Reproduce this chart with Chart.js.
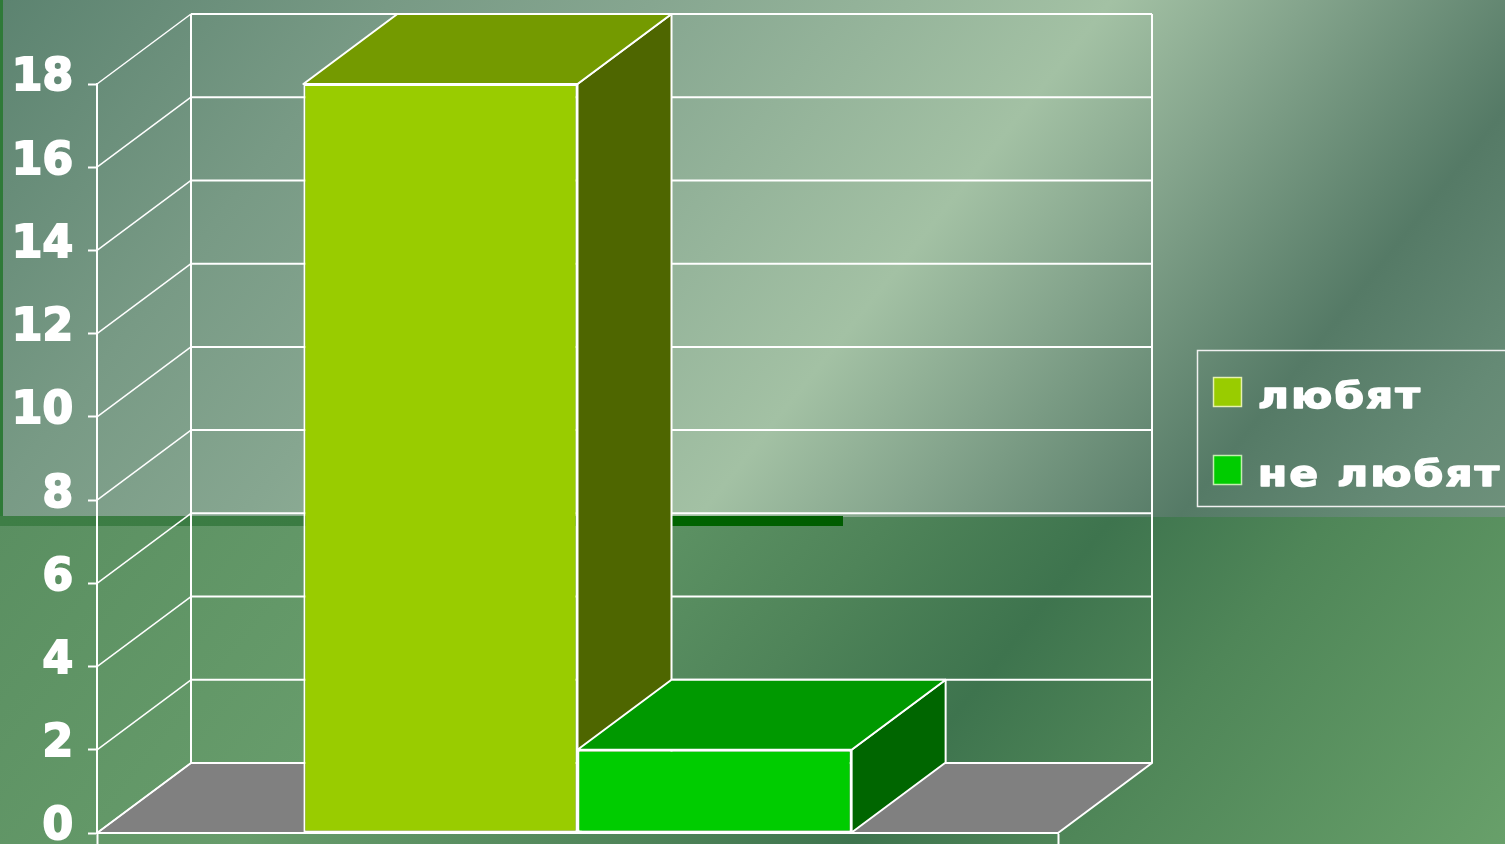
<!DOCTYPE html>
<html>
<head>
<meta charset="utf-8">
<script src="https://cdn.jsdelivr.net/npm/chart.js@4"></script>
<style>
  html, body { margin: 0; padding: 0; background: #5c8370; overflow: hidden; }
  canvas { display: block; }
</style>
</head>
<body>
<canvas id="chart" width="1505" height="844"></canvas>
<script>
// data
const categories = [''];
const seriesNames = ['любят', 'не любят'];
const lovesValues = [18];
const dislikesValues = [2];
const yTickValues = [0, 2, 4, 6, 8, 10, 12, 14, 16, 18];

// colours of the three visible faces of each box
const frontColors = ['#99cc00', '#00cc00'];
const topColors = ['#749a00', '#009900'];
const sideColors = ['#4e6600', '#006600'];

const DEPTH_X = 94;
const DEPTH_Y = 70;

// slide background: two diagonal gradients split at y=517, plus the dark strips
const backgroundPlugin = {
  id: 'slideBackground',
  beforeDraw(chart) {
    const ctx = chart.ctx;
    const w = chart.width, h = chart.height;
    const split = 517;

    const upper = ctx.createLinearGradient(0, 0, 1330, 1064);
    upper.addColorStop(0, '#5c8370');
    upper.addColorStop(0.18, '#789a85');
    upper.addColorStop(0.3, '#86a690');
    upper.addColorStop(0.51, '#a3c1a4');
    upper.addColorStop(0.6, '#84a48c');
    upper.addColorStop(0.73, '#557a66');
    upper.addColorStop(0.82, '#658a75');
    upper.addColorStop(0.9, '#71937d');
    upper.addColorStop(1, '#7d9c86');
    ctx.fillStyle = upper;
    ctx.fillRect(0, 0, w, split);

    const lower = ctx.createLinearGradient(0, 0, 1330, 1064);
    lower.addColorStop(0, '#55895c');
    lower.addColorStop(0.19, '#5a8f61');
    lower.addColorStop(0.42, '#679c6b');
    lower.addColorStop(0.6, '#4f8459');
    lower.addColorStop(0.7, '#3e744e');
    lower.addColorStop(0.8, '#4f8658');
    lower.addColorStop(1, '#68a06a');
    ctx.fillStyle = lower;
    ctx.fillRect(0, split, w, h - split);

    // thin vertical strip on the left edge
    ctx.fillStyle = '#2f7a38';
    ctx.fillRect(0, 0, 3, split + 4);

    // horizontal strip under the upper panel
    const strip = ctx.createLinearGradient(0, 0, 843, 0);
    strip.addColorStop(0, '#3e7e46');
    strip.addColorStop(0.36, '#3a7b42');
    strip.addColorStop(0.79, '#006400');
    strip.addColorStop(1, '#005c00');
    ctx.fillStyle = strip;
    ctx.fillRect(0, 516, 843, 10);
  }
};

// floor, back wall, side wall and the depth faces of the bars
const depthPlugin = {
  id: 'depth3d',
  beforeDatasetsDraw(chart) {
    const ctx = chart.ctx;
    const area = chart.chartArea;
    const yScale = chart.scales.y;
    const y0 = yScale.getPixelForValue(0);

    ctx.save();
    ctx.lineJoin = 'round';

    // floor
    ctx.beginPath();
    ctx.moveTo(area.left, y0);
    ctx.lineTo(area.right, y0);
    ctx.lineTo(area.right + DEPTH_X, y0 - DEPTH_Y);
    ctx.lineTo(area.left + DEPTH_X, y0 - DEPTH_Y);
    ctx.closePath();
    ctx.fillStyle = '#808080';
    ctx.fill();
    ctx.strokeStyle = '#ffffff';
    ctx.lineWidth = 2;
    ctx.stroke();

    // back wall grid lines and side wall diagonals
    yTickValues.forEach(v => {
      const y = yScale.getPixelForValue(v);
      ctx.lineWidth = 2;
      ctx.beginPath();
      ctx.moveTo(area.left + DEPTH_X, y - DEPTH_Y);
      ctx.lineTo(area.right + DEPTH_X, y - DEPTH_Y);
      ctx.stroke();
      ctx.lineWidth = 1.5;
      ctx.beginPath();
      ctx.moveTo(area.left, y);
      ctx.lineTo(area.left + DEPTH_X, y - DEPTH_Y);
      ctx.stroke();
    });
    const yTop = yScale.getPixelForValue(yScale.max);
    ctx.lineWidth = 2;
    ctx.beginPath();
    ctx.moveTo(area.left + DEPTH_X, yTop - DEPTH_Y);
    ctx.lineTo(area.left + DEPTH_X, y0 - DEPTH_Y);
    ctx.moveTo(area.right + DEPTH_X, yTop - DEPTH_Y);
    ctx.lineTo(area.right + DEPTH_X, y0 - DEPTH_Y);
    ctx.stroke();

    // side and top faces, left to right
    chart.data.datasets.forEach((ds, i) => {
      const meta = chart.getDatasetMeta(i);
      meta.data.forEach(bar => {
        const p = bar.getProps(['x', 'y', 'base', 'width'], true);
        const l = p.x - p.width / 2;
        const r = p.x + p.width / 2;
        ctx.lineWidth = 2;

        ctx.beginPath();
        ctx.moveTo(r, p.y);
        ctx.lineTo(r + DEPTH_X, p.y - DEPTH_Y);
        ctx.lineTo(r + DEPTH_X, p.base - DEPTH_Y);
        ctx.lineTo(r, p.base);
        ctx.closePath();
        ctx.fillStyle = sideColors[i];
        ctx.fill();
        ctx.stroke();

        ctx.beginPath();
        ctx.moveTo(l, p.y);
        ctx.lineTo(l + DEPTH_X, p.y - DEPTH_Y);
        ctx.lineTo(r + DEPTH_X, p.y - DEPTH_Y);
        ctx.lineTo(r, p.y);
        ctx.closePath();
        ctx.fillStyle = topColors[i];
        ctx.fill();
        ctx.stroke();
      });
    });
    ctx.restore();
  }
};

// boxed legend on the right, partly running off the slide
const legendPlugin = {
  id: 'boxLegend',
  afterDraw(chart) {
    const ctx = chart.ctx;
    ctx.save();
    ctx.strokeStyle = '#f0f0f0';
    ctx.lineWidth = 1.5;
    ctx.strokeRect(1197.5, 350.5, 340, 156);

    chart.data.datasets.forEach((ds, i) => {
      const top = 377 + i * 78;
      ctx.fillStyle = frontColors[i];
      ctx.fillRect(1213, top, 29, 30);
      ctx.strokeStyle = 'rgba(255,255,230,0.75)';
      ctx.lineWidth = 1.5;
      ctx.strokeRect(1213.5, top + 0.5, 28, 29);

      // wide heavy lettering: stretch horizontally and thicken with a stroke
      ctx.save();
      ctx.translate(1258, top + 31);
      ctx.scale(1.2, 1);
      ctx.font = 'bold 35px "DejaVu Sans", sans-serif';
      ctx.letterSpacing = '2px';
      ctx.textBaseline = 'alphabetic';
      ctx.fillStyle = '#ffffff';
      ctx.strokeStyle = '#ffffff';
      ctx.lineWidth = 1.6;
      ctx.lineJoin = 'round';
      ctx.strokeText(ds.label, 0, 0);
      ctx.fillText(ds.label, 0, 0);
      ctx.restore();
    });
    ctx.restore();
  }
};

new Chart(document.getElementById('chart'), {
  type: 'bar',
  data: {
    labels: categories,
    datasets: [
      { label: seriesNames[0], data: lovesValues, backgroundColor: frontColors[0] },
      { label: seriesNames[1], data: dislikesValues, backgroundColor: frontColors[1] }
    ]
  },
  options: {
    responsive: false,
    animation: false,
    layout: { padding: { top: 84, right: 447, bottom: 0, left: 0 } },
    datasets: {
      bar: {
        categoryPercentage: 0.5705,
        barPercentage: 1,
        borderColor: '#ffffff',
        borderWidth: 2,
        borderSkipped: false
      }
    },
    plugins: {
      legend: { display: false },
      tooltip: { enabled: false }
    },
    scales: {
      x: {
        grid: { offset: true, drawOnChartArea: false, tickLength: 11, tickColor: '#ffffff', tickWidth: 2 },
        border: { display: true, color: '#ffffff', width: 2 },
        ticks: { display: false }
      },
      y: {
        min: 0,
        max: 18,
        afterBuildTicks: s => { s.ticks = yTickValues.map(v => ({ value: v })); },
        afterFit: s => { s.width = 97; s.paddingTop = 0; s.paddingBottom = 0; },
        grid: { drawOnChartArea: false, tickLength: 9, tickColor: '#ffffff', tickWidth: 2 },
        border: { display: true, color: '#ffffff', width: 2 },
        ticks: {
          color: '#ffffff',
          padding: 15,
          labelOffset: -5,
          textStrokeColor: '#ffffff',
          textStrokeWidth: 2,
          font: { family: '"DejaVu Sans", sans-serif', weight: 'bold', size: 44 }
        }
      }
    }
  },
  plugins: [backgroundPlugin, depthPlugin, legendPlugin]
});
</script>
</body>
</html>
